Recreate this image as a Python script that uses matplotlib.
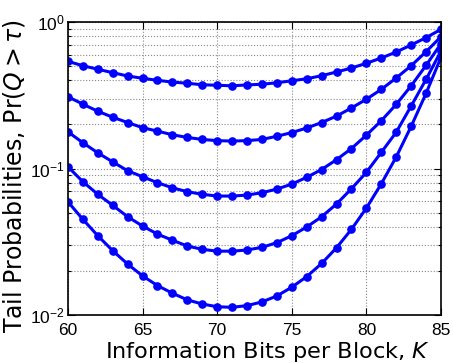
import matplotlib
matplotlib.use("Agg")
import matplotlib.pyplot as plt
import numpy as np

# information bits per block
K = np.arange(60, 86)

# tail probabilities Pr(Q > tau), one curve per threshold
tail_1 = [0.539, 0.503, 0.476, 0.451, 0.428, 0.413, 0.400, 0.389, 0.382, 0.373,
          0.370, 0.367, 0.372, 0.376, 0.385, 0.397, 0.410, 0.430, 0.456, 0.485,
          0.523, 0.568, 0.624, 0.697, 0.782, 0.891]
tail_2 = [0.309, 0.275, 0.246, 0.224, 0.206, 0.190, 0.180, 0.170, 0.163, 0.158,
          0.155, 0.154, 0.155, 0.158, 0.166, 0.176, 0.189, 0.206, 0.228, 0.259,
          0.297, 0.347, 0.415, 0.503, 0.627, 0.794]
tail_3 = [0.178, 0.150, 0.128, 0.111, 0.0966, 0.0879, 0.0800, 0.0739, 0.0695, 0.0667,
          0.0649, 0.0649, 0.0659, 0.0684, 0.0724, 0.0783, 0.0871, 0.0985, 0.115, 0.137,
          0.169, 0.212, 0.274, 0.367, 0.506, 0.711]
tail_4 = [0.1028, 0.0813, 0.0667, 0.0561, 0.0469, 0.0405, 0.0357, 0.0324, 0.0296, 0.0281,
          0.0273, 0.0273, 0.0278, 0.0290, 0.0312, 0.0348, 0.0399, 0.0469, 0.0573, 0.0728,
          0.0942, 0.129, 0.177, 0.267, 0.406, 0.634]
tail_5 = [0.0593, 0.0450, 0.0348, 0.0275, 0.0223, 0.0185, 0.0159, 0.0141, 0.0127, 0.0119,
          0.0114, 0.0113, 0.0116, 0.0123, 0.0135, 0.0155, 0.0183, 0.0225, 0.0288, 0.0385,
          0.0537, 0.0787, 0.120, 0.194, 0.326, 0.574]
curves = [tail_1, tail_2, tail_3, tail_4, tail_5]

fig = plt.figure(figsize=(4.53, 3.63), dpi=100)
ax = fig.add_axes([0.150, 0.132, 0.8235, 0.8074])

for y in curves:
    ax.semilogy(K, y, '-o', color='#0000ff', lw=2.2, ms=5.2, mec='#0000ff', mfc='#0000ff')

ax.set_xlim(60, 85)
ax.set_ylim(1e-2, 1e0)
ax.set_xticks([60, 65, 70, 75, 80, 85])

ax.grid(True, which='major', axis='x', ls=':', color='#888888', lw=0.8)
ax.grid(True, which='both', axis='y', ls=':', color='#888888', lw=0.8)

ax.tick_params(which='both', direction='in', top=True, right=True, width=0.8)
ax.tick_params(which='major', length=5, labelsize=12.5)
ax.tick_params(axis='x', which='major', pad=6)
ax.tick_params(axis='y', which='major', pad=2)
ax.tick_params(which='minor', length=2.5)
for lab in ax.get_xticklabels() + ax.get_yticklabels():
    lab.set_family('Liberation Sans')
for sp in ax.spines.values():
    sp.set_linewidth(1.2)

ax.set_xlabel(r'Information Bits per Block, $K$', fontsize=16.2, family='DejaVu Sans',
              math_fontfamily='dejavusans')
ax.xaxis.set_label_coords(0.535, -0.085)
ax.set_ylabel(r'Tail Probabilities, Pr$(Q>\tau)$', fontsize=17, family='DejaVu Sans',
              math_fontfamily='dejavusans')
ax.yaxis.set_label_coords(-0.11, 0.474)

fig.savefig('out.png', dpi=100)
